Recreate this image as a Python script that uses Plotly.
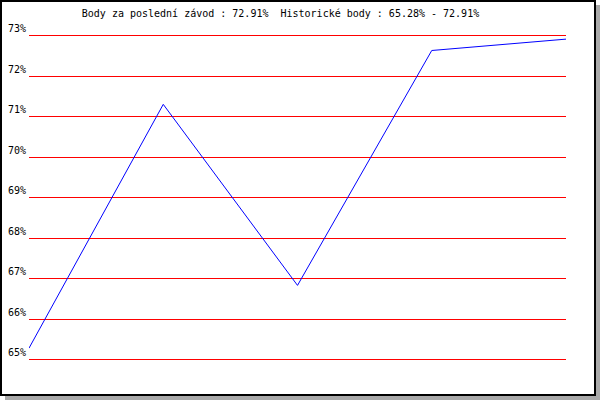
import plotly.graph_objects as go

# Data
races = [1, 2, 3, 4, 5]
points_pct = [65.28, 71.30, 66.83, 72.63, 72.91]
y_ticks = [65, 66, 67, 68, 69, 70, 71, 72, 73]
y_tick_labels = [f"{v}%" for v in y_ticks]
title_text = "Body za poslední závod : 72.91%  Historické body : 65.28% - 72.91%"

W, H = 600, 400
L, R, T, B = 29, 34, 30, 36
PW, PH = W - L - R, H - T - B
PX_PER_UNIT = 40.5
Y_TOP = 73 + 5.5 / PX_PER_UNIT
Y_BOT = Y_TOP - PH / PX_PER_UNIT

def px_x(x):
    return (x - L) / PW

def px_y(y):
    return (H - B - y) / PH

def rect(x0, y0, x1, y1, color):
    return dict(type="rect", xref="paper", yref="paper",
                x0=px_x(x0), x1=px_x(x1), y0=px_y(y1), y1=px_y(y0),
                fillcolor=color, line=dict(width=0), layer="above")

fig = go.Figure()
fig.add_trace(go.Scatter(
    x=races, y=points_pct, mode="lines",
    line=dict(color="#0000FF", width=1),
    hoverinfo="skip", showlegend=False,
))

shapes = [
    # shadow
    rect(596, 5, 600, 400, "#A9A9A9"),
    rect(5, 396, 600, 400, "#A9A9A9"),
    # black frame
    rect(0, 0, 596, 2, "#000000"),
    rect(0, 394, 596, 396, "#000000"),
    rect(0, 0, 2, 396, "#000000"),
    rect(594, 0, 596, 396, "#000000"),
]

fig.update_layout(
    width=W, height=H,
    margin=dict(l=L, r=R, t=T, b=B, pad=0, autoexpand=False),
    paper_bgcolor="#FFFFFF",
    plot_bgcolor="#FFFFFF",
    shapes=shapes,
    title=dict(text=title_text, x=px_x(280.5), xref="paper", xanchor="center",
               y=1 - 13.5 / H, yref="container", yanchor="middle",
               font=dict(family="DejaVu Sans Mono", size=10, color="#000000")),
    xaxis=dict(range=[1, 5], showgrid=False, zeroline=False, showticklabels=False,
               showline=False, ticks=""),
    yaxis=dict(range=[Y_BOT, Y_TOP], tickmode="array", tickvals=y_ticks,
               ticktext=y_tick_labels,
               showgrid=True, gridcolor="#FF0000", gridwidth=1,
               zeroline=False, showline=False, ticks="",
               ticklabelposition="outside top", ticklabelstandoff=2,
               tickfont=dict(family="DejaVu Sans Mono", size=10, color="#000000")),
)

fig.write_html("out.html", config={"displayModeBar": False},
               post_script="document.body.style.margin='0';document.body.style.padding='0';")
